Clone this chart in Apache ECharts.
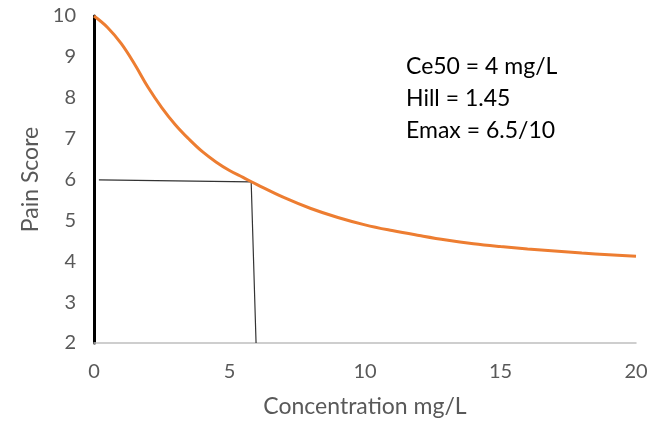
<!DOCTYPE html>
<html>
<head>
<meta charset="utf-8">
<script src="https://cdn.jsdelivr.net/npm/echarts@6/dist/echarts.min.js"></script>
<style>
    html, body { margin: 0; padding: 0; background: #fff; }
</style>
</head>
<body>
<div id="painChart" style="width: 657px; height: 422px"></div>
<script>
// concentration (mg/L) and pain score
var concentration = [0, 0.5, 1, 1.5, 2, 2.5, 3, 3.5, 4, 4.5, 5, 5.5, 6, 7, 8, 9, 10, 11, 12, 13, 14, 15, 16, 17, 18, 19, 20];
var painScore = [10, 9.72, 9.33, 8.82, 8.25, 7.76, 7.34, 6.99, 6.68, 6.43, 6.22, 6.05, 5.88, 5.56, 5.29, 5.07, 4.89, 4.75, 4.63, 4.52, 4.43, 4.36, 4.3, 4.25, 4.2, 4.16, 4.12];
// hand-drawn guide lines
var guideX = [0.18, 5.8, 5.98];
var guideY = [5.99, 5.94, 2];
var notes = ['Ce50 = 4 mg/L', 'Hill = 1.45', 'Emax = 6.5/10'];

var myChart = echarts.init(document.getElementById('painChart'));
var font = 'Lato, "Open Sans", sans-serif';

var curveData = concentration.map(function (c, i) { return [c, painScore[i]]; });
var guideData = guideX.map(function (c, i) { return [c, guideY[i]]; });

var option = {
    animation: false,
    grid: {
        left: 94,
        right: 21,
        top: 16,
        bottom: 79,
        containLabel: false,
        outerBoundsMode: 'none'
    },
    xAxis: {
        type: 'value',
        min: 0,
        max: 20,
        interval: 5,
        name: 'Concentration mg/L',
        nameLocation: 'middle',
        nameGap: 52,
        nameTextStyle: { color: '#595959', fontSize: 23, fontFamily: font },
        axisLine: { lineStyle: { color: '#bfbfbf', width: 1.5 } },
        axisTick: { show: false },
        splitLine: { show: false },
        axisLabel: { color: '#595959', fontSize: 20, fontFamily: font, margin: 19 }
    },
    yAxis: {
        type: 'value',
        min: 2,
        max: 10,
        interval: 1,
        name: 'Pain Score',
        nameLocation: 'middle',
        nameGap: 50,
        nameTextStyle: { color: '#595959', fontSize: 23, fontFamily: font },
        axisLine: { show: true, lineStyle: { color: '#000', width: 3 } },
        axisTick: { show: false },
        splitLine: { show: false },
        axisLabel: { color: '#595959', fontSize: 20, fontFamily: font, margin: 18 }
    },
    graphic: notes.map(function (t, i) {
        return {
            type: 'text',
            left: 406,
            top: 55 + i * 32,
            style: { text: t, fill: '#000', fontSize: 23, fontFamily: font }
        };
    }),
    series: [
        {
            name: 'guide',
            type: 'line',
            showSymbol: false,
            data: guideData,
            lineStyle: { color: '#333', width: 1.2 },
            z: 2
        },
        {
            name: 'Pain Score',
            type: 'line',
            smooth: 0.4,
            showSymbol: false,
            data: curveData,
            lineStyle: { color: '#ed7d31', width: 3 },
            z: 3
        }
    ]
};
myChart.setOption(option);
</script>
</body>
</html>
